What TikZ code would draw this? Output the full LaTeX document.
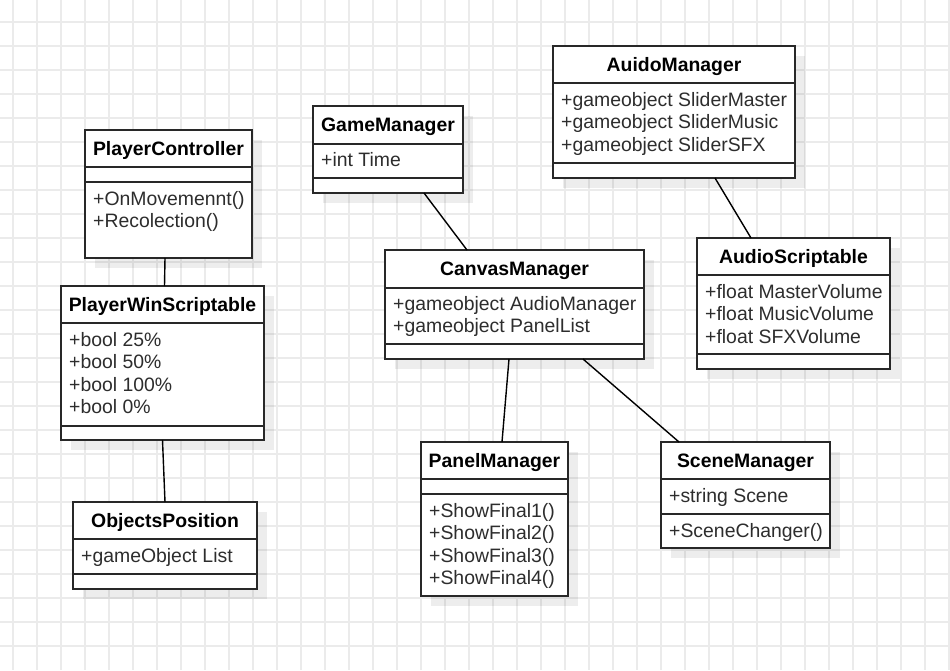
\documentclass[tikz,border=0pt]{standalone}
\usepackage{fontspec}
\setmainfont{Liberation Sans}
\usetikzlibrary{shadows,calc}
\definecolor{gridc}{RGB}{235,235,235}
\definecolor{linec}{RGB}{40,40,40}
\definecolor{textc}{RGB}{45,45,45}
\tikzset{
  box/.style={draw=linec, line width=2pt, fill=white, rectangle, inner sep=0pt, outer sep=0pt, anchor=north west,
    drop shadow={shadow xshift=10pt, shadow yshift=-10pt, fill=black, opacity=0.07}},
  divider/.style={draw=linec, line width=2pt},
  titletext/.style={font=\bfseries\fontsize{19.4}{22}\selectfont, text=black, anchor=base, inner sep=0pt},
  member/.style={font=\fontsize{19.4}{22}\selectfont, text=textc, anchor=base west, inner sep=0pt},
  conn/.style={draw=black, line width=1.4pt},
  gridline/.style={draw=gridc, line width=1.3pt}
}
\begin{document}
\begin{tikzpicture}[x=1pt,y=-1pt]
\useasboundingbox (0,0) rectangle (950,670);
\fill[white] (0,0) rectangle (950,670);
\foreach \x in {13,37,...,949} \draw[gridline] (\x,0) -- (\x,670);
\foreach \y in {22,46,...,669} \draw[gridline] (0,\y) -- (950,\y);

% PlayerController
\node[box, minimum width=167pt, minimum height=128pt] (pc) at (85,130) {};
\draw[divider] (85,167) -- (252,167);
\draw[divider] (85,182) -- (252,182);
\node[titletext] (pct) at (168.5,155) {PlayerController};
\node[member] (pc1) at (93,205) {+OnMovemennt()};
\node[member] (pc2) at (93,227.5) {+Recolection()};

% PlayerWinScriptable
\node[box, minimum width=203pt, minimum height=154pt] (pws) at (61,286) {};
\draw[divider] (61,323) -- (264,323);
\draw[divider] (61,426) -- (264,426);
\node[titletext] (pwst) at (162.5,311) {PlayerWinScriptable};
\node[member] (pws1) at (69,346) {+bool 25\%};
\node[member] (pws2) at (69,368.5) {+bool 50\%};
\node[member] (pws3) at (69,391) {+bool 100\%};
\node[member] (pws4) at (69,413.5) {+bool 0\%};

% ObjectsPosition
\node[box, minimum width=184pt, minimum height=87pt] (op) at (73,502) {};
\draw[divider] (73,539) -- (257,539);
\draw[divider] (73,574) -- (257,574);
\node[titletext] (opt) at (165,527) {ObjectsPosition};
\node[member] (op1) at (81,562) {+gameObject List};

% GameManager
\node[box, minimum width=150pt, minimum height=87pt] (gm) at (313,106) {};
\draw[divider] (313,144) -- (463,144);
\draw[divider] (313,178) -- (463,178);
\node[titletext] (gmt) at (388,131) {GameManager};
\node[member] (gm1) at (321,166) {+int Time};

% CanvasManager
\node[box, minimum width=259pt, minimum height=109pt] (cm) at (385,250) {};
\draw[divider] (385,288) -- (644,288);
\draw[divider] (385,344) -- (644,344);
\node[titletext] (cmt) at (514.5,275) {CanvasManager};
\node[member] (cm1) at (393,310) {+gameobject AudioManager};
\node[member] (cm2) at (393,332.5) {+gameobject PanelList};

% AuidoManager
\node[box, minimum width=242pt, minimum height=132pt] (am) at (553,46) {};
\draw[divider] (553,83) -- (795,83);
\draw[divider] (553,163) -- (795,163);
\node[titletext] (amt) at (674,71) {AuidoManager};
\node[member] (am1) at (561,106) {+gameobject SliderMaster};
\node[member] (am2) at (561,128.5) {+gameobject SliderMusic};
\node[member] (am3) at (561,151) {+gameobject SliderSFX};

% AudioScriptable
\node[box, minimum width=193pt, minimum height=131pt] (as) at (697,238) {};
\draw[divider] (697,275) -- (890,275);
\draw[divider] (697,354) -- (890,354);
\node[titletext] (ast) at (793.5,263) {AudioScriptable};
\node[member] (as1) at (705,298) {+float MasterVolume};
\node[member] (as2) at (705,320.5) {+float MusicVolume};
\node[member] (as3) at (705,343) {+float SFXVolume};

% PanelManager
\node[box, minimum width=147pt, minimum height=154pt] (pm) at (421,442) {};
\draw[divider] (421,479) -- (568,479);
\draw[divider] (421,494) -- (568,494);
\node[titletext] (pmt) at (494.5,467) {PanelManager};
\node[member] (pm1) at (429,517) {+ShowFinal1()};
\node[member] (pm2) at (429,539.5) {+ShowFinal2()};
\node[member] (pm3) at (429,562) {+ShowFinal3()};
\node[member] (pm4) at (429,584.5) {+ShowFinal4()};

% SceneManager
\node[box, minimum width=169pt, minimum height=106pt] (sm) at (661,442) {};
\draw[divider] (661,479) -- (830,479);
\draw[divider] (661,514) -- (830,514);
\node[titletext] (smt) at (745.5,467) {SceneManager};
\node[member] (sm1) at (669,502) {+string Scene};
\node[member] (sm2) at (669,537) {+SceneChanger()};

% connectors
\draw[conn] ([xshift=-3.5pt]pc.south) -- ([xshift=2pt]pws.north);
\draw[conn] (pws.south) -- (op.north);
\draw[conn] ([xshift=36pt]gm.south) -- ([xshift=-47.5pt]cm.north);
\draw[conn] ([xshift=41pt]am.south) -- ([xshift=-42.5pt]as.north);
\draw[conn] ([xshift=-5.5pt]cm.south) -- ([xshift=7.5pt]pm.north);
\draw[conn] ([xshift=68.5pt]cm.south) -- ([xshift=-66.5pt]sm.north);
\end{tikzpicture}
\end{document}
